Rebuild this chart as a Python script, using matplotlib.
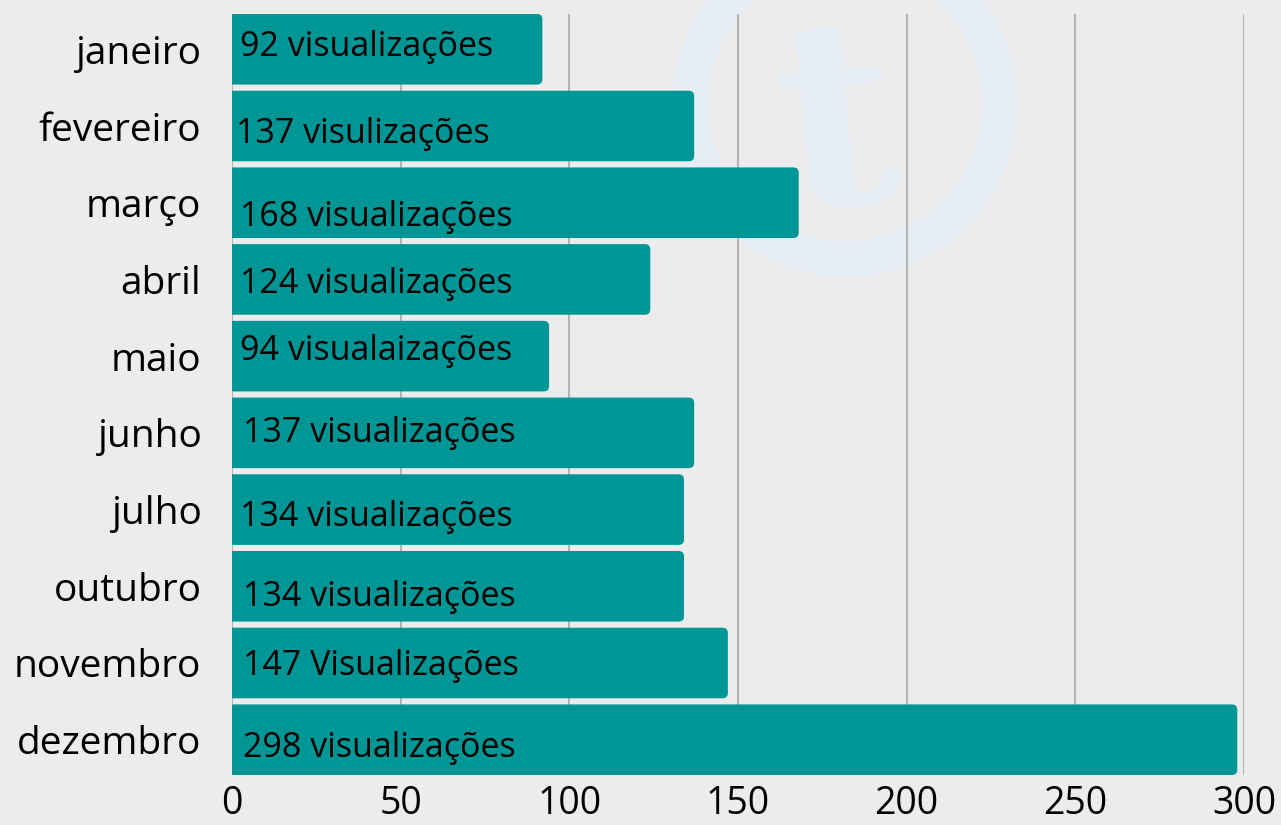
import matplotlib
matplotlib.use("Agg")
import matplotlib.pyplot as plt
from matplotlib.patches import FancyBboxPatch, Circle, PathPatch
from matplotlib.textpath import TextPath
from matplotlib.font_manager import FontProperties
from matplotlib.transforms import Affine2D

months = ["janeiro", "fevereiro", "março", "abril", "maio", "junho",
          "julho", "outubro", "novembro", "dezembro"]
views = [92, 137, 168, 124, 94, 137, 134, 134, 147, 298]
bar_texts = ["92 visualizações", "137 visulizações", "168 visualizações",
             "124 visualizações", "94 visualaizações", "137 visualizações",
             "134 visualizações", "134 visualizações", "147 Visualizações",
             "298 visualizações"]
x_ticks = [0, 50, 100, 150, 200, 250, 300]

# label placement inside each bar (points): x offset, y offset (down = +)
text_dx = [6, 3, 6, 6, 6, 8, 6, 8, 8, 8]
text_dy = [-2, 6, 10, 3, -4, 0, 5, 8, 2, 6]

TEAL = "#009696"
plt.rcParams["font.family"] = ["Open Sans", "DejaVu Sans"]

fig = plt.figure(figsize=(12.81, 8.25), dpi=100)
fig.patch.set_facecolor("#ececec")

# faint background decoration (blurred logo ring + letter), in pixels
fig.patches.append(Circle((845, 825 - 104), 155, transform=None,
                          fill=False, edgecolor="#e7edf4", linewidth=26, zorder=-5))
tp = TextPath((0, 0), "t", size=260, prop=FontProperties(family="DejaVu Serif", weight="bold"))
ext = tp.get_extents()
tp = Affine2D().translate(-(ext.x0 + ext.x1) / 2, -(ext.y0 + ext.y1) / 2) \
    .rotate_deg(5).translate(840, 825 - 118).transform_path(tp)
fig.patches.append(PathPatch(tp, transform=None, facecolor="#e7edf4",
                             edgecolor="none", zorder=-5))

ax = fig.add_axes([232 / 1281, 50 / 825, 1012 / 1281, 761 / 825])
ax.set_facecolor("none")

pos = list(range(len(months)))
bars = ax.barh(pos, views, height=0.92, color=TEAL, zorder=2)
ax.set_xlim(0, 300)
ax.set_ylim(len(months) - 1 + 0.46, -0.46)

# rounded right ends; left end starts past the axis and is clipped square
px_per_x = 1012 / 300
px_per_y = 761 / (len(months) - 1 + 0.92)
for b in bars:
    b.set_visible(False)
    x0, y0, w, h = b.get_x(), b.get_y(), b.get_width(), b.get_height()
    ax.add_patch(FancyBboxPatch((x0 - 5, y0), w + 5, h,
                                boxstyle="round,pad=0,rounding_size=1.6",
                                mutation_aspect=px_per_x / px_per_y,
                                facecolor=TEAL, edgecolor="none", zorder=2))

for i, (v, t) in enumerate(zip(views, bar_texts)):
    ax.annotate(t, xy=(0, i), xytext=(text_dx[i], -text_dy[i]),
                textcoords="offset points", ha="left", va="center",
                fontsize=24.5, color="black", zorder=3)

ax.set_yticks(pos)
ax.set_yticklabels(months)
ax.set_xticks(x_ticks)
ax.tick_params(axis="y", length=0, labelsize=28, colors="black", pad=22)
ax.tick_params(axis="x", length=0, labelsize=27, colors="black", pad=7)

ax.grid(axis="x", color="#b4b4b4", linewidth=1.5, zorder=0)
ax.set_axisbelow(True)
for s in ax.spines.values():
    s.set_visible(False)

fig.savefig("out.png", dpi=100, facecolor=fig.get_facecolor())
